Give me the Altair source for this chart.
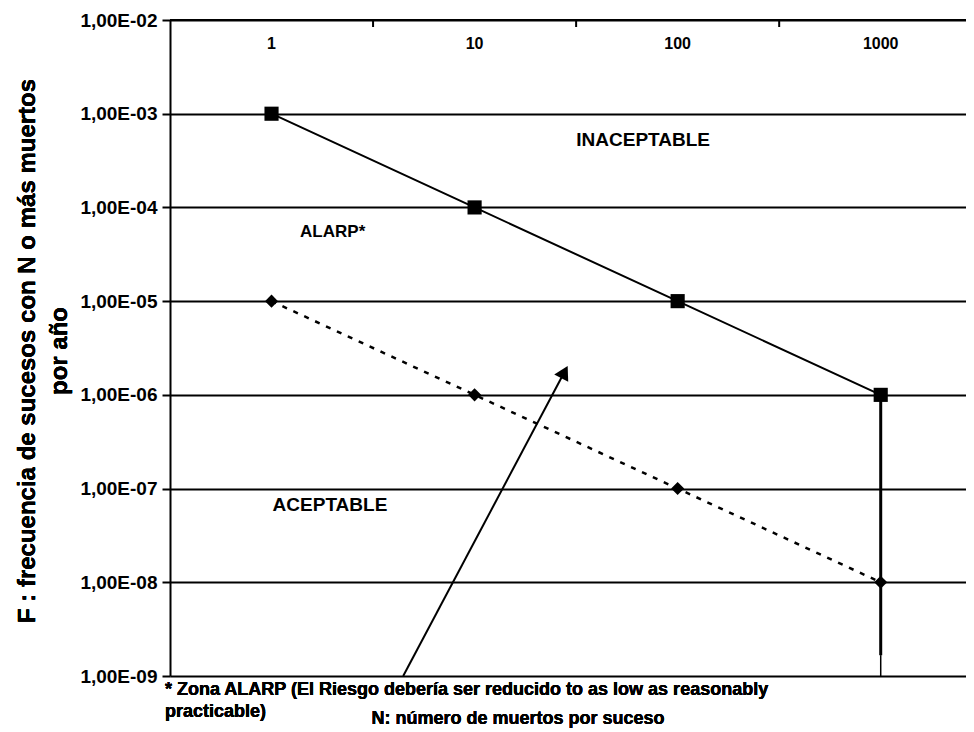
import altair as alt
import pandas as pd

# ---- data ----
N_vals = [1, 10, 100, 1000]
N_labels = ["1", "10", "100", "1000"]
F_limit_upper = [1e-3, 1e-4, 1e-5, 1e-6]
F_limit_lower = [1e-5, 1e-6, 1e-7, 1e-8]
y_ticks = [1e-9, 1e-8, 1e-7, 1e-6, 1e-5, 1e-4, 1e-3, 1e-2]
cat_bounds = [10 ** 0.5, 10 ** 1.5, 10 ** 2.5]

zone_text = ["INACEPTABLE", "ALARP*", "ACEPTABLE"]
zone_N = [67.6, 2.0, 1.94]
zone_F = [5.2e-4, 5.5e-5, 6.6e-8]
zone_size = [19, 17, 19]

arrow_N = [4.45, 27.7]
arrow_F = [1e-9, 1.75e-6]

vline_N = [1000]
vline_F = [1e-6, 1.67e-9, 1e-9]

FONT = "Liberation Sans"

xs = alt.Scale(type="log", domain=[10 ** -0.5, 10 ** 3.42])
ys = alt.Scale(type="log", domain=[1e-9, 1e-2])

upper = pd.DataFrame({"N": N_vals, "F": F_limit_upper})
lower = pd.DataFrame({"N": N_vals, "F": F_limit_lower})

yaxis = alt.Axis(
    values=y_ticks, grid=True, gridColor="black", gridWidth=2, gridOpacity=1,
    domainColor="black", domainWidth=2, tickColor="black", tickWidth=2, tickSize=8,
    labelFont=FONT, labelFontSize=19, labelFontWeight="bold", labelColor="black",
    labelPadding=5, title=None,
    labelExpr="'1,00E-0' + round(-log(datum.value) / LN10)",
)

base_grid = alt.Chart(upper).mark_point(opacity=0).encode(
    x=alt.X("N:Q", scale=xs, axis=None),
    y=alt.Y("F:Q", scale=ys, axis=yaxis),
)

line_up = alt.Chart(upper).mark_line(color="black", strokeWidth=2).encode(
    x=alt.X("N:Q", scale=xs), y=alt.Y("F:Q", scale=ys))
pts_up = alt.Chart(upper).mark_point(shape="square", filled=True, color="black", size=200, opacity=1).encode(
    x=alt.X("N:Q", scale=xs), y=alt.Y("F:Q", scale=ys))

line_lo = alt.Chart(lower).mark_line(color="black", strokeWidth=2.5, strokeDash=[5, 7]).encode(
    x=alt.X("N:Q", scale=xs), y=alt.Y("F:Q", scale=ys))
pts_lo = alt.Chart(lower).mark_point(shape="diamond", filled=True, color="black", size=170, opacity=1).encode(
    x=alt.X("N:Q", scale=xs), y=alt.Y("F:Q", scale=ys))

vdf = pd.DataFrame({"N": [vline_N[0]] * 2, "F1": [vline_F[0], vline_F[1]], "F2": [vline_F[1], vline_F[2]],
                    "w": [3.0, 1.5]})
vline = alt.Chart(vdf).mark_rule(color="black").encode(
    x=alt.X("N:Q", scale=xs), y=alt.Y("F1:Q", scale=ys), y2="F2:Q",
    strokeWidth=alt.StrokeWidth("w:Q", scale=None, legend=None))

adf = pd.DataFrame({"N": [arrow_N[0]], "F": [arrow_F[0]], "N2": [arrow_N[1]], "F2": [arrow_F[1]]})
arrow_line = alt.Chart(adf).mark_rule(color="black", strokeWidth=2).encode(
    x=alt.X("N:Q", scale=xs), y=alt.Y("F:Q", scale=ys), x2="N2:Q", y2="F2:Q")
arrow_head = alt.Chart(adf).mark_point(shape="triangle-up", filled=True, color="black", size=250,
                                       angle=28, opacity=1).encode(
    x=alt.X("N2:Q", scale=xs), y=alt.Y("F2:Q", scale=ys))

cat_df = pd.DataFrame({"N": N_vals, "lab": N_labels})
cat_text = alt.Chart(cat_df).mark_text(font=FONT, fontSize=16, fontWeight="bold", color="black",
                                       baseline="middle").encode(
    x=alt.X("N:Q", scale=xs), y=alt.value(24), text="lab:N")

tick_df = pd.DataFrame({"N": cat_bounds})
top_ticks = alt.Chart(tick_df).mark_rule(color="black", strokeWidth=2).encode(
    x=alt.X("N:Q", scale=xs), y=alt.value(0), y2=alt.value(7))
top_line = alt.Chart(tick_df).mark_rule(color="black", strokeWidth=2).encode(
    x=alt.value(0), x2=alt.value(796), y=alt.value(0))

zdf = pd.DataFrame({"N": zone_N, "F": zone_F, "t": zone_text, "s": zone_size})
zones = alt.Chart(zdf).mark_text(font=FONT, fontWeight="bold", color="black").encode(
    x=alt.X("N:Q", scale=xs), y=alt.Y("F:Q", scale=ys), text="t:N",
    size=alt.Size("s:Q", scale=None, legend=None))

ytitle1 = alt.Chart(upper).mark_text(text="F : frecuencia de sucesos con N o más muertos", font=FONT,
                                     fontSize=24, fontWeight="bold", angle=270, color="black").encode(
    x=alt.value(-142), y=alt.value(331))
ytitle2 = alt.Chart(upper).mark_text(text="por año", font=FONT, fontSize=24, fontWeight="bold",
                                     angle=270, color="black").encode(
    x=alt.value(-110), y=alt.value(331))

foot1 = alt.Chart(upper).mark_text(text="* Zona ALARP (El Riesgo debería ser reducido to as low as reasonably",
                                   font=FONT, fontSize=18, fontWeight="bold", align="left", color="black").encode(
    x=alt.value(-5), y=alt.value(670))
foot2 = alt.Chart(upper).mark_text(text="practicable)", font=FONT, fontSize=18, fontWeight="bold",
                                   align="left", color="black").encode(
    x=alt.value(-5), y=alt.value(692))
xtitle = alt.Chart(upper).mark_text(text="N: número de muertos por suceso", font=FONT, fontSize=18,
                                    fontWeight="bold", color="black").encode(
    x=alt.value(348), y=alt.value(699))

chart = alt.layer(
    base_grid, top_line, top_ticks, vline, line_up, line_lo, pts_up, pts_lo,
    arrow_line, arrow_head, cat_text, zones, ytitle1, ytitle2, foot1, foot2, xtitle,
).properties(
    width=796, height=656,
    padding={"left": 162, "top": 12, "right": 0, "bottom": 56},
    autosize=alt.AutoSizeParams(type="none"),
    background="white",
).configure_view(stroke=None)

chart.save("out.html", embed_options={"renderer": "svg", "actions": False})
